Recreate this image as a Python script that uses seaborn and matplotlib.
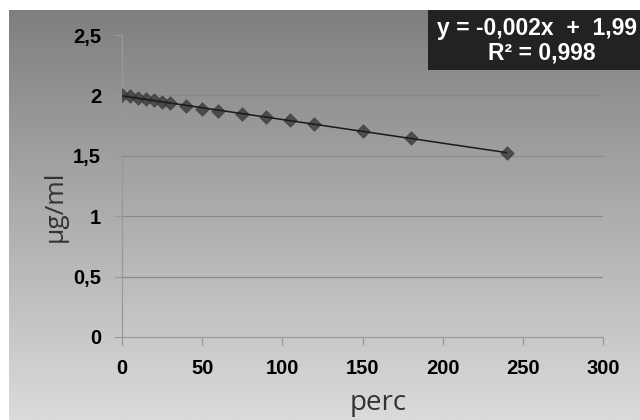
import numpy as np
import pandas as pd
import matplotlib
matplotlib.use("Agg")
import matplotlib.pyplot as plt
import seaborn as sns
from matplotlib.patches import Rectangle

# ---- data ----
perc = [0, 5, 10, 15, 20, 25, 30, 40, 50, 60, 75, 90, 105, 120, 150, 180, 240]
ugml = [2.004, 1.991, 1.977, 1.968, 1.958, 1.946, 1.933, 1.913, 1.888, 1.871,
        1.850, 1.819, 1.797, 1.765, 1.703, 1.644, 1.526]
xticks = [0, 50, 100, 150, 200, 250, 300]
xticklabels = ["0", "50", "100", "150", "200", "250", "300"]
yticks = [0, 0.5, 1, 1.5, 2, 2.5]
yticklabels = ["0", "0,5", "1", "1,5", "2", "2,5"]
eq_line1 = "y = -0,002x  +  1,99"
eq_line2 = "R² = 0,998"
xlabel = "perc"
ylabel = "µg/ml"

df = pd.DataFrame({"perc": perc, "ugml": ugml})

sns.set_theme(style="white")
plt.rcParams["font.family"] = ["Liberation Sans", "DejaVu Sans"]

fig = plt.figure(figsize=(6.4, 4.2), dpi=100)
fig.patch.set_facecolor("white")

# gradient background panel
bg = fig.add_axes([9 / 640, 0, 1 - 9 / 640, 1 - 10 / 420], zorder=0)
grad = np.linspace(0, 1, 256).reshape(-1, 1)
cmap = matplotlib.colors.LinearSegmentedColormap.from_list("g", ["#7f7f7f", "#dbdbdb"])
bg.imshow(grad, aspect="auto", cmap=cmap, extent=[0, 1, 1, 0])
bg.set_axis_off()

ax = fig.add_axes([122 / 640, 83 / 420, (603 - 122) / 640, (337 - 35) / 420], zorder=1)
ax.patch.set_alpha(0)

sns.regplot(data=df, x="perc", y="ugml", ax=ax, ci=None, marker="D",
            scatter_kws=dict(color="#3a3a3a", s=48, edgecolor="#3a3a3a", linewidths=0.5, zorder=3),
            line_kws=dict(color="#1a1a1a", lw=1.1, zorder=4))

ax.set_xlim(0, 300)
ax.set_ylim(0, 2.5)
ax.set_xticks(xticks)
ax.set_xticklabels(xticklabels)
ax.set_yticks(yticks)
ax.set_yticklabels(yticklabels)

for yv in yticks[1:-1]:
    ax.axhline(yv, color="#8a8a8a", lw=0.9, zorder=1)

for s in ["top", "right"]:
    ax.spines[s].set_visible(False)
for s in ["left", "bottom"]:
    ax.spines[s].set_color("#999999")
    ax.spines[s].set_linewidth(0.9)

ax.tick_params(axis="both", which="both", length=6, width=0.9, color="#999999",
               labelsize=14.5, labelcolor="black")
ax.tick_params(axis="x", direction="out", bottom=True, pad=10)
ax.tick_params(axis="y", direction="out", left=True, pad=9)
for lab in ax.get_xticklabels() + ax.get_yticklabels():
    lab.set_fontweight("bold")

ax.set_xlabel(xlabel, fontsize=20, color="#333333", family=["Open Sans", "DejaVu Sans"])
ax.set_ylabel(ylabel, fontsize=19, color="#333333", family=["Open Sans", "DejaVu Sans"])
ax.xaxis.set_label_coords((378 - 122) / 481, -(389 - 337) / 302)
ax.yaxis.set_label_coords(-(122 - 68) / 481, (337 - 206) / 302)

# equation box
fig.add_artist(Rectangle((428 / 640, 1 - 70 / 420), (640 - 428) / 640, 60 / 420,
                         transform=fig.transFigure, facecolor="#222222",
                         edgecolor="none", zorder=5))
fig.text(437 / 640, 1 - 28 / 420, eq_line1, ha="left", va="center", color="white",
         fontsize=16.5, fontweight="bold", zorder=6)
fig.text(542 / 640, 1 - 53 / 420, eq_line2, ha="center", va="center", color="white",
         fontsize=16.5, fontweight="bold", zorder=6)

fig.savefig("out.png", dpi=100)
